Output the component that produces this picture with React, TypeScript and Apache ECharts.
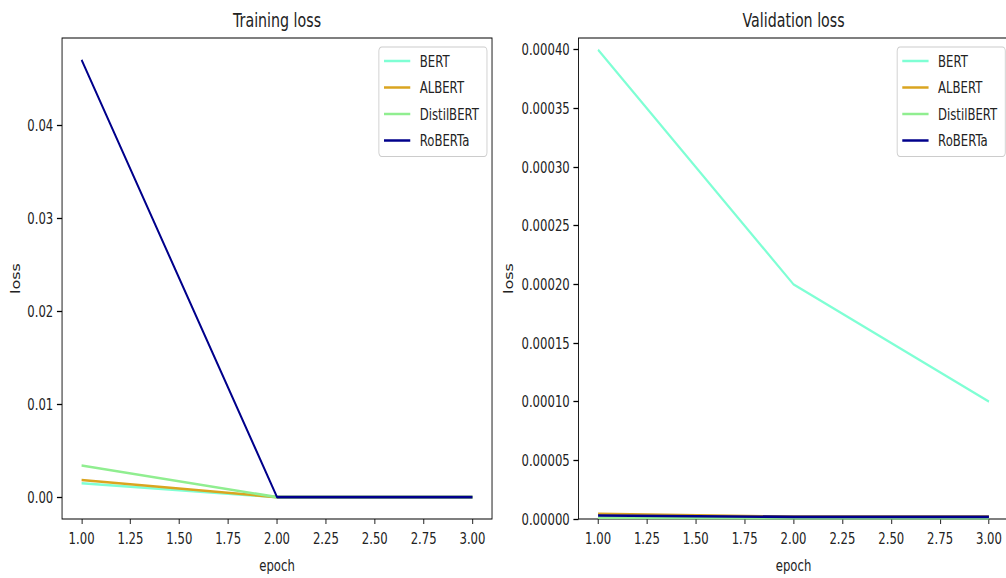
import React, { useEffect, useRef } from "react";
import * as echarts from "echarts";

// The reference figure is horizontally squeezed; draw wide, then scale X.
const SCALE = 0.73;
const WIDE_W = 1400;
const H = 578;
const FONT = "DejaVu Sans";

const epochs = [1, 2, 3];
const modelNames = ["BERT", "ALBERT", "DistilBERT", "RoBERTa"];
const modelColors = ["#7fffd4", "#daa520", "#90ee90", "#00008b"];

const trainingBERT = [0.0015, 0.0, 0.0];
const trainingALBERT = [0.00185, 0.0, 0.0];
const trainingDistilBERT = [0.0034, 0.0, 0.0];
const trainingRoBERTa = [0.047, 0.0, 0.0];

const validationBERT = [0.0004, 0.0002, 0.0001];
const validationALBERT = [0.0000045, 0.000002, 0.000002];
const validationDistilBERT = [0.0000012, 0.0000006, 0.0000006];
const validationRoBERTa = [0.000003, 0.0000018, 0.0000018];

const xTicks = [1, 1.25, 1.5, 1.75, 2, 2.25, 2.5, 2.75, 3];
const trainingYTicks = [0, 0.01, 0.02, 0.03, 0.04];
const validationYTicks = [0, 0.00005, 0.0001, 0.00015, 0.0002, 0.00025, 0.0003, 0.00035, 0.0004];

const trainingSeries = [trainingBERT, trainingALBERT, trainingDistilBERT, trainingRoBERTa];
const validationSeries = [validationBERT, validationALBERT, validationDistilBERT, validationRoBERTa];

export default function App() {
  const ref = useRef<HTMLDivElement>(null);

  useEffect(() => {
    document.body.style.margin = "0";
    const chart = echarts.init(ref.current!, null, { renderer: "svg" });

    const textColor = "#222";
    const labelStyle = { fontSize: 16, fontFamily: FONT, color: textColor };

    const xAxis = (gridIndex: number) => ({
      type: "value",
      gridIndex,
      min: 0.9,
      max: 3.1,
      axisLine: { show: false, onZero: false },
      axisTick: { show: true, customValues: xTicks, length: 5, lineStyle: { color: "#000", width: 1 } },
      axisLabel: {
        customValues: xTicks,
        formatter: (v: number) => v.toFixed(2),
        margin: 11,
        ...labelStyle,
      },
      splitLine: { show: false },
      name: "epoch",
      nameLocation: "middle",
      nameGap: 38,
      nameTextStyle: labelStyle,
    });

    const yAxis = (gridIndex: number, min: number, max: number, ticks: number[], digits: number, gap: number) => ({
      type: "value",
      gridIndex,
      min,
      max,
      axisLine: { show: false, onZero: false },
      axisTick: { show: true, customValues: ticks, length: 7, lineStyle: { color: "#000", width: 1.3 } },
      axisLabel: {
        customValues: ticks,
        formatter: (v: number) => v.toFixed(digits),
        margin: 12,
        ...labelStyle,
      },
      splitLine: { show: false },
      name: "loss",
      nameLocation: "middle",
      nameGap: gap,
      nameTextStyle: labelStyle,
    });

    const legend = (left: number) => ({
      orient: "vertical",
      left,
      top: 47,
      data: modelNames,
      icon: "rect",
      itemWidth: 36,
      itemHeight: 2.5,
      itemGap: 10.5,
      padding: [6, 11, 8, 7],
      backgroundColor: "rgba(255,255,255,0.8)",
      borderColor: "#cccccc",
      borderWidth: 1.2,
      borderRadius: 4,
      selectedMode: false,
      textStyle: { fontSize: 16, fontFamily: FONT, color: textColor, padding: [0, 0, 0, 8] },
    });

    const makeSeries = (values: number[][], axisIndex: number) =>
      values.map((vals, i) => ({
        type: "line",
        name: modelNames[i],
        xAxisIndex: axisIndex,
        yAxisIndex: axisIndex,
        data: epochs.map((e, j) => [e, vals[j]]),
        showSymbol: false,
        symbol: "none",
        color: modelColors[i],
        lineStyle: { color: modelColors[i], width: 2.6 },
        itemStyle: { color: modelColors[i] },
        z: 2 + i,
      }));

    const option = {
      animation: false,
      backgroundColor: "#ffffff",
      grid: [
        { left: 85, top: 38, width: 589, height: 483, show: true, borderColor: "#000", borderWidth: 1.2, backgroundColor: "transparent" },
        { left: 792.5, top: 38, width: 589, height: 483, show: true, borderColor: "#000", borderWidth: 1.2, backgroundColor: "transparent" },
      ],
      xAxis: [xAxis(0), xAxis(1)],
      yAxis: [
        yAxis(0, -0.00235, 0.04935, trainingYTicks, 2, 56),
        yAxis(1, 0, 0.00041, validationYTicks, 5, 87),
      ],
      legend: [legend(519), legend(1229)],
      graphic: [
        {
          type: "text",
          x: 379.5,
          y: 20,
          style: { text: "Training loss", fontSize: 19.5, fontFamily: FONT, fill: textColor, textAlign: "center", textVerticalAlign: "middle" },
        },
        {
          type: "text",
          x: 1087,
          y: 20,
          style: { text: "Validation loss", fontSize: 19.5, fontFamily: FONT, fill: textColor, textAlign: "center", textVerticalAlign: "middle" },
        },
      ],
      series: [...makeSeries(trainingSeries, 0), ...makeSeries(validationSeries, 1)],
    };

    chart.setOption(option as any);
    return () => chart.dispose();
  }, []);

  return (
    <div style={{ width: 1006, height: H, overflow: "hidden", position: "relative", background: "#fff" }}>
      <div
        ref={ref}
        style={{ width: WIDE_W, height: H, transform: `scaleX(${SCALE})`, transformOrigin: "0 0" }}
      />
    </div>
  );
}
